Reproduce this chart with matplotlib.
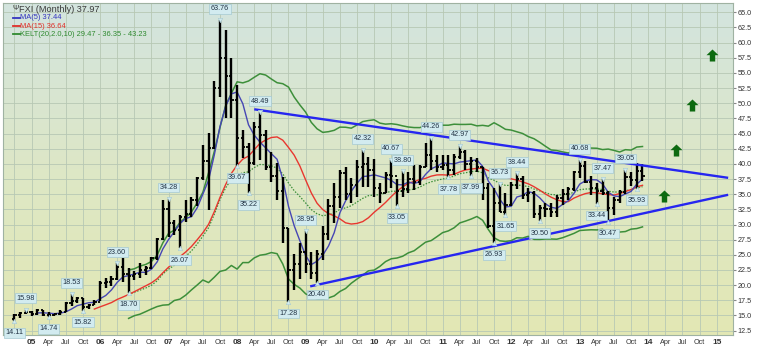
import numpy as np
import pandas as pd
import matplotlib
matplotlib.use("Agg")
import matplotlib.pyplot as plt
from matplotlib.path import Path
from matplotlib.colors import LinearSegmentedColormap

# ---------------- data (monthly FXI, Oct 2004 .. Dec 2013) ----------------
first_month = -3  # months since Jan 2005 (Oct 2004)
opens = [14.4, 15.0, 15.4, 15.6, 15.2, 15.9, 15.1, 15.1, 15.2, 15.6, 17.0, 17.4,
         17.9, 16.4, 16.8, 17.3, 20.4, 20.6, 21.0, 23.0, 21.8, 21.5, 21.9, 22.5,
         22.8, 24.4, 27.6, 32.6, 30.3, 29.1, 31.2, 31.8, 34.0, 37.6, 40.4, 42.7,
         52.5, 57.5, 54.5, 50.5, 44.3, 42.8, 40.1, 46.0, 44.8, 39.5, 38.0, 35.5,
         29.5, 22.5, 23.5, 25.5, 23.5, 22.0, 25.2, 28.5, 33.0, 34.5, 38.5, 35.0,
         36.5, 39.5, 40.0, 39.0, 36.0, 35.2, 38.2, 38.0, 35.5, 35.8, 37.5, 37.0,
         39.5, 41.5, 40.5, 39.5, 39.8, 39.0, 41.2, 42.0, 40.0, 40.5, 39.5, 36.0,
         29.8, 33.5, 32.0, 33.2, 36.5, 37.5, 34.8, 35.2, 31.8, 32.7, 32.5, 32.0,
         34.3, 35.0, 35.8, 38.6, 39.6, 37.0, 36.0, 35.6, 35.2, 32.8, 34.0, 35.4,
         37.8, 37.3, 38.9]
highs = [15.2, 15.6, 15.98, 15.8, 16.0, 15.9, 15.5, 15.3, 15.9, 17.3, 18.53, 18.1,
         17.9, 16.9, 17.5, 20.7, 21.2, 21.5, 23.6, 24.4, 22.8, 22.3, 23.6, 23.2,
         24.7, 27.8, 34.0, 34.28, 30.8, 31.6, 34.0, 34.6, 37.9, 43.1, 45.1, 53.6,
         63.76, 62.1, 57.5, 53.0, 45.6, 43.4, 46.9, 48.49, 45.6, 42.0, 40.1, 37.9,
         29.4, 25.2, 27.0, 28.95, 25.5, 25.8, 29.8, 34.2, 36.8, 39.0, 39.5, 37.6,
         40.6, 42.32, 41.2, 40.8, 36.8, 38.7, 40.67, 37.5, 38.8, 38.7, 39.8, 39.8,
         43.4, 44.26, 41.5, 41.5, 41.5, 41.7, 42.97, 42.3, 41.2, 40.9, 39.5, 36.8,
         36.0, 36.73, 35.2, 37.0, 38.44, 38.0, 36.0, 35.5, 33.2, 33.5, 33.5, 34.8,
         35.8, 36.2, 38.8, 40.68, 40.4, 38.0, 36.8, 37.47, 35.6, 34.6, 35.7, 39.05,
         38.6, 40.2, 40.0]
lows = [14.11, 14.6, 15.2, 14.9, 15.1, 14.9, 14.74, 14.9, 15.0, 15.5, 16.5, 17.1,
        15.82, 16.1, 16.8, 17.4, 19.6, 19.8, 20.9, 20.6, 18.70, 20.9, 21.2, 21.6,
        22.6, 24.2, 27.4, 28.0, 28.3, 26.07, 30.4, 31.3, 33.0, 37.4, 32.4, 42.5,
        51.1, 47.6, 47.6, 39.67, 41.0, 35.22, 39.8, 40.7, 39.0, 37.0, 34.0, 27.0,
        17.28, 19.2, 21.0, 22.0, 21.0, 20.40, 24.2, 27.5, 30.2, 32.7, 34.0, 33.5,
        34.6, 36.2, 36.2, 34.6, 33.5, 35.2, 36.0, 33.05, 34.6, 35.2, 35.7, 36.5,
        39.5, 39.0, 38.7, 39.0, 37.78, 38.2, 40.8, 39.0, 37.99, 38.7, 34.0, 29.4,
        26.93, 32.0, 31.65, 33.0, 35.8, 34.2, 33.7, 31.0, 30.50, 31.3, 31.2, 31.3,
        33.3, 34.0, 35.5, 37.6, 36.8, 34.8, 33.44, 34.9, 30.47, 31.5, 33.6, 35.0,
        36.4, 35.93, 37.1]
closes = [15.0, 15.4, 15.6, 15.2, 15.9, 15.1, 15.1, 15.2, 15.6, 17.0, 17.4, 17.9,
          16.4, 16.8, 17.3, 20.4, 20.6, 21.0, 23.0, 21.8, 21.5, 21.9, 22.5, 22.8,
          24.4, 27.6, 32.6, 30.3, 29.1, 31.2, 31.8, 34.0, 37.6, 40.4, 42.7, 52.5,
          57.5, 54.5, 50.5, 44.3, 42.8, 40.1, 46.0, 44.8, 39.5, 38.0, 35.5, 29.5,
          22.5, 23.5, 25.5, 23.5, 22.0, 25.2, 28.5, 33.0, 34.5, 38.5, 35.0, 36.5,
          39.5, 40.0, 39.0, 36.0, 35.2, 38.2, 38.0, 35.5, 35.8, 37.5, 37.0, 39.5,
          41.5, 40.5, 39.5, 39.8, 39.0, 41.2, 42.0, 40.0, 40.5, 39.5, 36.0, 29.8,
          33.5, 32.0, 33.2, 36.5, 37.5, 34.8, 35.2, 31.8, 32.7, 32.5, 32.0, 34.3,
          35.0, 35.8, 38.6, 39.6, 37.0, 36.0, 35.6, 35.2, 32.8, 34.0, 35.4, 37.8,
          37.3, 38.9, 37.97]

# labelled swing points: (value, kind)
swing_labels = [(14.11, "L"), (15.98, "H"), (14.74, "L"), (18.53, "H"), (15.82, "L"),
                (18.70, "L"), (23.60, "H"), (34.28, "H"), (26.07, "L"), (63.76, "H"),
                (39.67, "L"), (35.22, "L"), (48.49, "H"), (17.28, "L"), (28.95, "H"),
                (20.40, "L"), (42.32, "H"), (40.67, "H"), (33.05, "L"), (38.80, "H"),
                (44.26, "H"), (37.78, "L"), (42.97, "H"), (37.99, "L"), (26.93, "L"),
                (36.73, "H"), (31.65, "L"), (38.44, "H"), (30.50, "L"), (40.68, "H"),
                (33.44, "L"), (37.47, "H"), (30.47, "L"), (39.05, "H"), (35.93, "L")]

# trend lines: (month, price) endpoints
upper_trend = [(39.0, 49.0), (122.0, 37.7)]
lower_trend = [(48.8, 19.8), (122.0, 34.9)]
# green "up" arrows: (month, price)
arrow_marks = [(119.2, 57.9), (115.7, 49.7), (112.9, 42.3), (110.8, 34.7)]

legend_lines = ["FXI (Monthly) 37.97", "MA(5) 37.44", "MA(15) 36.64",
                "KELT(20,2.0,10) 29.47 - 36.35 - 43.23"]
month_names = ["Jan", "Feb", "Mar", "Apr", "May", "Jun", "Jul", "Aug", "Sep", "Oct", "Nov", "Dec"]

# ---------------- indicators ----------------
n = len(closes)
xm = np.arange(n) + first_month
df = pd.DataFrame({"o": opens, "h": highs, "l": lows, "c": closes}, index=xm)
ma5 = df.c.rolling(5).mean()
ma15 = df.c.rolling(15).mean()
prev_c = df.c.shift(1)
tr = pd.concat([df.h - df.l, (df.h - prev_c).abs(), (df.l - prev_c).abs()], axis=1).max(axis=1)
atr = tr.ewm(alpha=1 / 10, adjust=False).mean()
mid = df.c.ewm(span=20, adjust=False).mean()
kup = mid + 2 * atr
klo = mid - 2 * atr
kmask = np.arange(n) >= 20

# ---------------- figure ----------------
plt.rcParams["font.family"] = ["Liberation Sans", "DejaVu Sans"]
W, H = 765, 350
fig = plt.figure(figsize=(W / 100, H / 100), dpi=100)
fig.patch.set_facecolor("white")
ax = fig.add_axes([3 / W, 15 / H, 730 / W, 332 / H])
xmin, xmax = -5.0, 122.85
ymin, ymax = 11.78, 66.53
ax.set_xlim(xmin, xmax)
ax.set_ylim(ymin, ymax)

cmap = LinearSegmentedColormap.from_list("bg", ["#d3e4df", "#dde7c6", "#e3e8b4"])
ax.imshow(np.linspace(0, 1, 256).reshape(-1, 1), extent=[xmin, xmax, ymin, ymax],
          aspect="auto", cmap=cmap, origin="upper", zorder=0)

# grid
xt = np.arange(-3, 121, 3)
for v in xt:
    ax.axvline(v, color="#b7c8b4", lw=0.6, zorder=1)
for v in np.arange(12.5, 65.1, 2.5):
    ax.axhline(v, color="#b7c8b4", lw=0.6, zorder=1)

# indicators
ax.plot(xm[kmask], kup[kmask], color="#3d8f3a", lw=1.1, zorder=3)
ax.plot(xm[kmask], klo[kmask], color="#3d8f3a", lw=1.1, zorder=3)
ax.plot(xm[kmask], mid[kmask], color="#3d8f3a", lw=0.9, ls=(0, (1.2, 1.2)), zorder=3)
ax.plot(xm, ma15, color="#e8372f", lw=1.0, zorder=3)
ax.plot(xm, ma5, color="#4646b4", lw=1.0, zorder=4)

# OHLC bars
tw = 0.38
ax.vlines(xm, df.l, df.h, color="black", lw=1.7, zorder=5)
ax.hlines(df.o, xm - tw, xm, color="black", lw=1.3, zorder=5)
ax.hlines(df.c, xm, xm + tw, color="black", lw=1.3, zorder=5)

# trend lines
for seg in (upper_trend, lower_trend):
    ax.plot([seg[0][0], seg[1][0]], [seg[0][1], seg[1][1]], color="#2626f0", lw=1.7,
            zorder=6, solid_capstyle="butt")

# swing labels
for val, kind in swing_labels:
    arr = df.h if kind == "H" else df.l
    idx = int(np.argmin(np.abs(arr.values - val)))
    xv = xm[idx]
    dy = 8 if kind == "H" else -8.5
    ax.annotate(f"{val:.2f}", (xv, val), xytext=(0, dy), textcoords="offset points",
                ha="center", va="center", fontsize=5.2, color="#223344", zorder=8,
                bbox=dict(boxstyle="square,pad=0.2", fc="#d2ebf0", ec="#a5c9d2", lw=0.5))
    ax.plot([xv], [val], marker="v" if kind == "H" else "^", ms=3.2, color="#d2ebf0",
            markeredgecolor="#a5c9d2", markeredgewidth=0.4, zorder=7,
            transform=ax.transData)

# green arrows
verts = [(0, 1), (1, 0.05), (0.45, 0.05), (0.45, -1), (-0.45, -1), (-0.45, 0.05),
         (-1, 0.05), (0, 1)]
arrow_path = Path(verts, [Path.MOVETO] + [Path.LINETO] * 6 + [Path.CLOSEPOLY])
ax.scatter([a[0] for a in arrow_marks], [a[1] for a in arrow_marks], marker=arrow_path,
           s=75, color="#0d6a10", zorder=7, linewidths=0)

# axes decorations
for s in ax.spines.values():
    s.set_color("#9fb2a2")
    s.set_linewidth(0.8)
ax.yaxis.tick_right()
ax.set_yticks(np.arange(12.5, 65.1, 2.5))
ax.set_yticklabels([f"{v:.1f}" for v in np.arange(12.5, 65.1, 2.5)], fontsize=5.2,
                   color="#333333")
ax.tick_params(axis="y", length=2, pad=1.5, color="#888888")
xticks = np.arange(0, 121, 3)
xlabels = []
for m in xticks:
    if m % 12 == 0:
        xlabels.append(f"{(5 + m // 12):02d}")
    else:
        xlabels.append(month_names[m % 12])
ax.set_xticks(xticks)
ax.set_xticklabels(xlabels, fontsize=5.2, color="#333333")
for lab, m in zip(ax.get_xticklabels(), xticks):
    if m % 12 == 0:
        lab.set_fontweight("bold")
        lab.set_fontsize(6)
ax.tick_params(axis="x", length=0, pad=3)

# legend (top-left)
def ftxt(px, py, s, **kw):
    fig.text(px / W, 1 - py / H, s, va="center", ha="left", **kw)

ftxt(19, 9, legend_lines[0], fontsize=6.6, color="#3a3a3a")
ftxt(12.5, 9, "\u03a8", fontsize=5.5, color="#3a3a3a")
cols = ["#3535c0", "#e0302a", "#2f8a2f"]
for i, (txt, c) in enumerate(zip(legend_lines[1:], cols)):
    yy = 17.7 + 8.3 * i
    fig.add_artist(plt.Line2D([13 / W, 20 / W], [1 - yy / H, 1 - yy / H], color=c, lw=1.3))
    ftxt(20.5, yy, txt, fontsize=5.4, color=c)

fig.savefig("out.png", dpi=100)
